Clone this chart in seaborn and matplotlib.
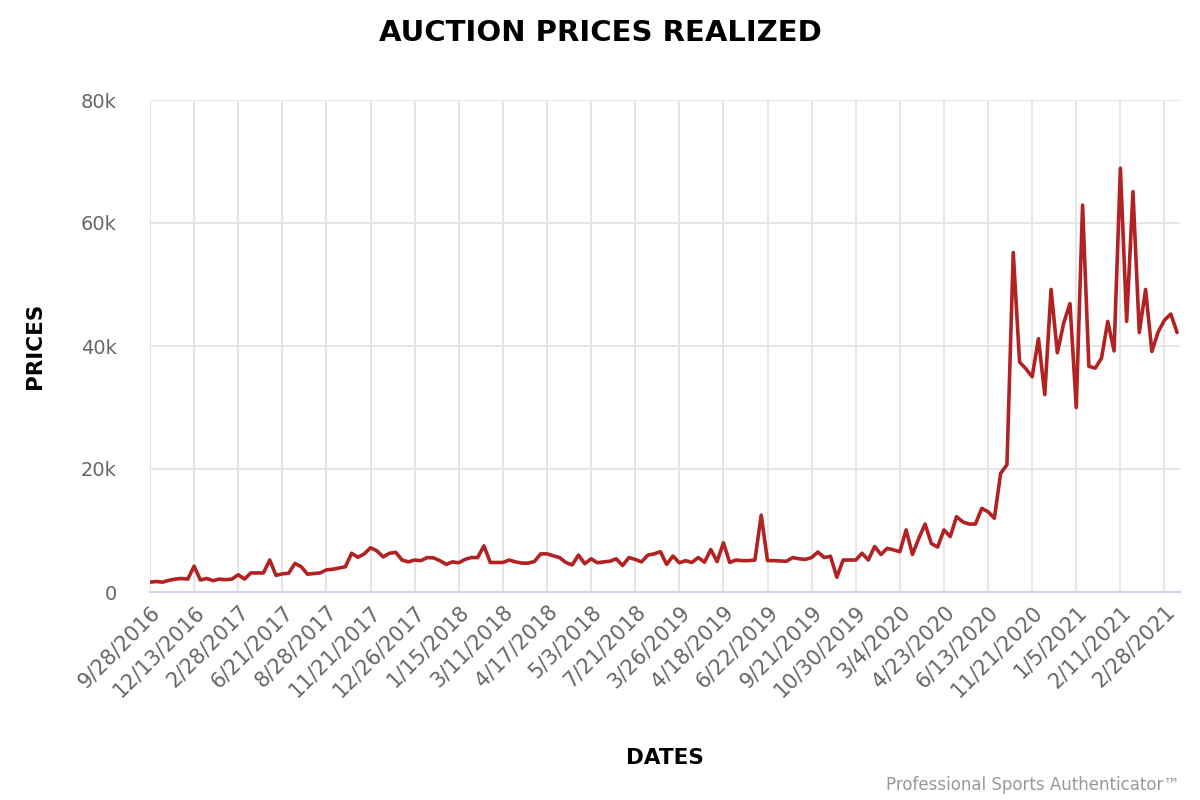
import matplotlib
matplotlib.use("Agg")
import matplotlib.pyplot as plt
import seaborn as sns
import pandas as pd
from matplotlib.ticker import FuncFormatter, FixedLocator

# labelled sale dates (every 7th sale on the axis)
tick_labels = [
    "9/28/2016", "12/13/2016", "2/28/2017", "6/21/2017", "8/28/2017",
    "11/21/2017", "12/26/2017", "1/15/2018", "3/11/2018", "4/17/2018",
    "5/3/2018", "7/21/2018", "3/26/2019", "4/18/2019", "6/22/2019",
    "9/21/2019", "10/30/2019", "3/4/2020", "4/23/2020", "6/13/2020",
    "11/21/2020", "1/5/2021", "2/11/2021", "2/28/2021",
]

# realized prices, one per sale
prices = [
    1600, 1700, 1600, 1900, 2100, 2200, 2100, 4200, 1950, 2200,
    1850, 2100, 2000, 2100, 2800, 2100, 3100, 3100, 3100, 5200,
    2700, 2950, 3050, 4650, 4100, 2900, 3000, 3100, 3600, 3700,
    3900, 4100, 6300, 5650, 6200, 7200, 6700, 5700, 6300, 6450,
    5200, 4900, 5200, 5100, 5600, 5550, 5100, 4500, 4900, 4750,
    5300, 5600, 5600, 7500, 4800, 4800, 4800, 5200, 4900, 4700,
    4700, 4950, 6200, 6200, 5900, 5600, 4800, 4400, 6000, 4600,
    5400, 4750, 4900, 5000, 5400, 4300, 5600, 5300, 4900, 6000,
    6200, 6550, 4500, 5850, 4750, 5100, 4800, 5600, 4850, 6900,
    4950, 8000, 4800, 5200, 5100, 5100, 5200, 12500, 5100, 5100,
    5050, 5000, 5600, 5400, 5300, 5600, 6500, 5600, 5800, 2400,
    5200, 5200, 5200, 6300, 5200, 7400, 6100, 7100, 6850, 6550,
    10100, 6100, 8700, 11050, 7900, 7300, 10100, 9000, 12250, 11400,
    11050, 11050, 13600, 13050, 12000, 19300, 20700, 55200, 37400, 36300,
    35000, 41200, 32100, 49200, 38900, 43700, 46900, 30000, 62900, 36700,
    36400, 38000, 44000, 39200, 68900, 44000, 65100, 42200, 49200, 39100,
    42300, 44200, 45200, 42200,
]

LINE = "#b22222"
GRID = "#e6e6e6"
TICK = "#666666"


def main():
    df = pd.DataFrame({"sale": range(len(prices)), "price": prices})

    sns.set_theme(style="whitegrid")
    plt.rcParams["font.family"] = ["DejaVu Sans"]

    fig = plt.figure(figsize=(12, 8), dpi=100)
    ax = fig.add_axes([0.125, 0.26, 0.858, 0.615])

    sns.lineplot(data=df, x="sale", y="price", color=LINE, linewidth=2.6, ax=ax)

    ax.set_xlim(0, len(prices) - 0.6)
    ax.set_ylim(0, 80000)

    tick_pos = list(range(0, len(prices), 7))[:len(tick_labels)]
    ax.xaxis.set_major_locator(FixedLocator(tick_pos))
    ax.set_xticklabels(tick_labels, rotation=45, ha="right", rotation_mode="anchor",
                       fontsize=15, color=TICK)
    ax.set_yticks([0, 20000, 40000, 60000, 80000])
    ax.yaxis.set_major_formatter(FuncFormatter(lambda v, p: "0" if v == 0 else f"{int(v / 1000)}k"))
    ax.tick_params(axis="y", labelsize=14, labelcolor=TICK, length=0, pad=24)
    ax.tick_params(axis="x", length=0, pad=7)

    ax.grid(True, color=GRID, linewidth=1.4)
    for side in ["top", "right", "left"]:
        ax.spines[side].set_visible(False)
    ax.spines["bottom"].set_color("#ccd6eb")
    ax.spines["bottom"].set_linewidth(1.5)

    ax.set_xlabel("DATES", fontsize=15.5, fontweight="bold", color="black")
    ax.set_ylabel("PRICES", fontsize=15.5, fontweight="bold", color="black")
    ax.xaxis.set_label_coords(0.5, -0.317)
    ax.yaxis.set_label_coords(-0.102, 0.5)

    fig.text(0.5, 0.959, "AUCTION PRICES REALIZED", ha="center", va="center",
             fontsize=21, fontweight="bold", color="black")
    fig.text(0.983, 0.019, "Professional Sports Authenticator\u2122", ha="right", va="center",
             fontsize=12, color="#999999")

    fig.savefig("out.png", dpi=100)
    plt.close(fig)


if __name__ == "__main__":
    main()
